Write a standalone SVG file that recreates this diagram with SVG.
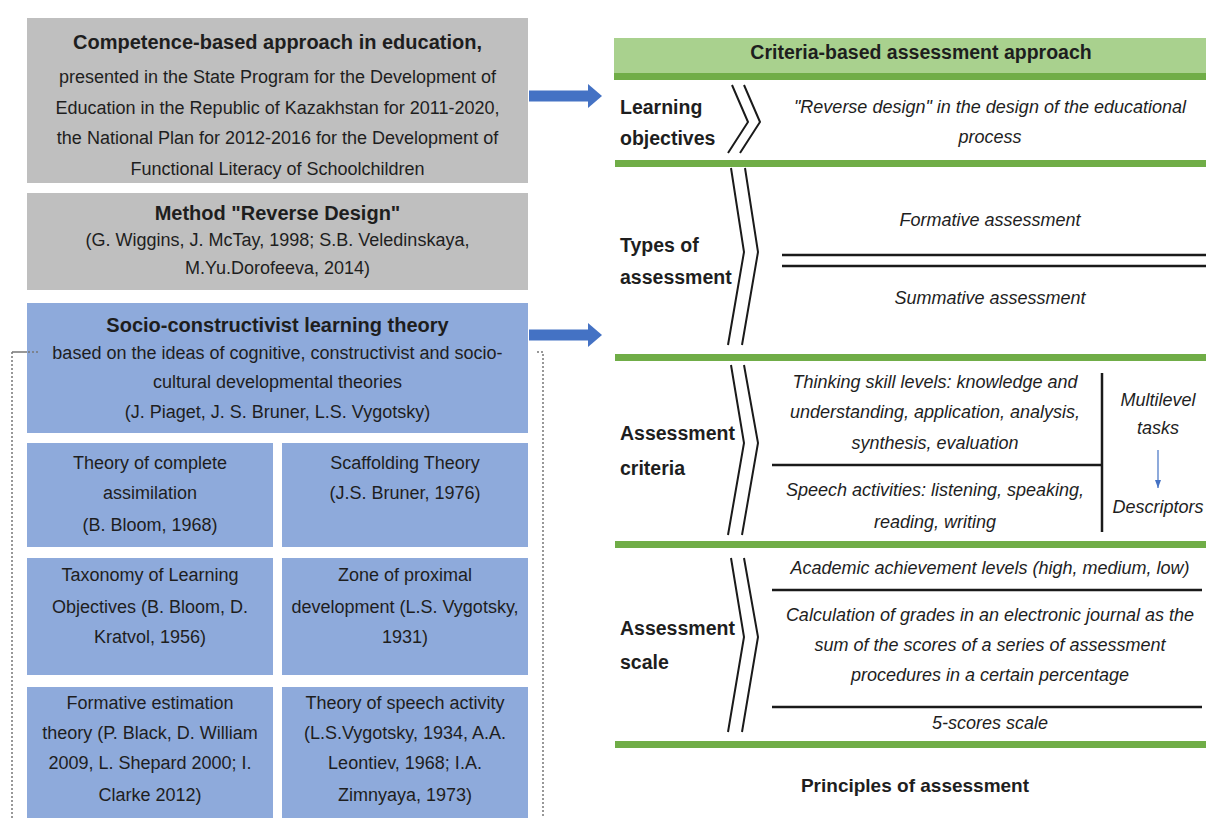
<svg xmlns="http://www.w3.org/2000/svg" width="1206" height="818" viewBox="0 0 1206 818">
<style>
text{font-family:"Liberation Sans",Arial,sans-serif;fill:#1e1e1e;text-anchor:middle}
.t{font-size:20px;font-weight:bold}
.b{font-size:18px}
.lab{font-size:19.5px;font-weight:bold;text-anchor:start}
.i{font-size:18px;font-style:italic}
.gray{fill:#bfbfbf}
.blue{fill:#8eaadb}
.green{stroke:#70ad47;stroke-width:7}
.ln{stroke:#1a1a1a;stroke-width:2.5;fill:none}
.chev{stroke:#1a1a1a;stroke-width:2;fill:none}
.dot{stroke:#777;stroke-width:1.5;stroke-dasharray:2 2;fill:none}
</style>
<defs>
<marker id="head" markerUnits="userSpaceOnUse" markerWidth="14" markerHeight="24" refX="0" refY="12" orient="auto" viewBox="0 0 14 24">
<path d="M0,0 L14,12 L0,24 Z" fill="#4472c4"/>
</marker>
<marker id="small" markerUnits="userSpaceOnUse" markerWidth="8" markerHeight="6" refX="8" refY="3" orient="auto" viewBox="0 0 8 6">
<path d="M0,0 L8,3 L0,6 Z" fill="#4472c4"/>
</marker>
</defs>
<rect width="1206" height="818" fill="#ffffff"/>

<g id="dotted-frame">
<path class="dot" d="M12,818 V352 H40 M537,352 H543 V818"/>
</g>

<g id="competence">
<rect class="gray" x="27" y="18" width="501" height="165"/>
<text class="t" x="277.5" y="49">Competence-based approach in education,</text>
<text class="b" x="277.5" y="83">presented in the State Program for the Development of</text>
<text class="b" x="277.5" y="114">Education in the Republic of Kazakhstan for 2011-2020,</text>
<text class="b" x="277.5" y="144">the National Plan for 2012-2016 for the Development of</text>
<text class="b" x="277.5" y="175">Functional Literacy of Schoolchildren</text>
</g>

<g id="reverse-design">
<rect class="gray" x="27" y="193" width="501" height="97"/>
<text class="t" x="277.5" y="220">Method "Reverse Design"</text>
<text class="b" x="277.5" y="246">(G. Wiggins, J. McTay, 1998; S.B. Veledinskaya,</text>
<text class="b" x="277.5" y="274">M.Yu.Dorofeeva, 2014)</text>
</g>

<g id="socio">
<rect class="blue" x="27" y="303" width="501" height="130"/>
<text class="t" x="277.5" y="332">Socio-constructivist learning theory</text>
<text class="b" x="277.5" y="359">based on the ideas of cognitive, constructivist and socio-</text>
<text class="b" x="277.5" y="388">cultural developmental theories</text>
<text class="b" x="277.5" y="418">(J. Piaget, J. S. Bruner, L.S. Vygotsky)</text>
</g>
<path class="dot" d="M12,352 H40"/>

<g id="complete-assimilation">
<rect class="blue" x="27" y="443" width="246" height="104"/>
<text class="b" x="150" y="469">Theory of complete</text>
<text class="b" x="150" y="499">assimilation</text>
<text class="b" x="150" y="531">(B. Bloom, 1968)</text>
</g>
<g id="scaffolding">
<rect class="blue" x="282" y="443" width="246" height="104"/>
<text class="b" x="405" y="469">Scaffolding Theory</text>
<text class="b" x="405" y="499">(J.S. Bruner, 1976)</text>
</g>
<g id="taxonomy">
<rect class="blue" x="27" y="558" width="246" height="117"/>
<text class="b" x="150" y="581">Taxonomy of Learning</text>
<text class="b" x="150" y="613">Objectives (B. Bloom, D.</text>
<text class="b" x="150" y="643">Kratvol, 1956)</text>
</g>
<g id="proximal">
<rect class="blue" x="282" y="558" width="246" height="117"/>
<text class="b" x="405" y="581">Zone of proximal</text>
<text class="b" x="405" y="613">development (L.S. Vygotsky,</text>
<text class="b" x="405" y="643">1931)</text>
</g>
<g id="formative-estimation">
<rect class="blue" x="27" y="687" width="246" height="131"/>
<text class="b" x="150" y="709">Formative estimation</text>
<text class="b" x="150" y="739">theory (P. Black, D. William</text>
<text class="b" x="150" y="769">2009, L. Shepard 2000; I.</text>
<text class="b" x="150" y="801">Clarke 2012)</text>
</g>
<g id="speech-activity">
<rect class="blue" x="282" y="687" width="246" height="131"/>
<text class="b" x="405" y="709">Theory of speech activity</text>
<text class="b" x="405" y="739">(L.S.Vygotsky, 1934, A.A.</text>
<text class="b" x="405" y="769">Leontiev, 1968; I.A.</text>
<text class="b" x="405" y="801">Zimnyaya, 1973)</text>
</g>

<g id="connectors">
<path d="M529,96 H588" stroke="#4472c4" stroke-width="11" marker-end="url(#head)"/>
<path d="M529,335 H588" stroke="#4472c4" stroke-width="11" marker-end="url(#head)"/>
<path d="M1158,450 V488" stroke="#4472c4" stroke-width="1.2" marker-end="url(#small)"/>
</g>

<g id="criteria-header">
<rect x="614" y="38" width="592" height="36" fill="#a9d18e"/>
<text x="921" y="59" style="font-size:19.5px;font-weight:bold">Criteria-based assessment approach</text>
<line class="green" x1="614" y1="76.5" x2="1206" y2="76.5"/>
</g>

<g id="learning-objectives">
<text class="lab" x="620" y="114">Learning</text>
<text class="lab" x="620" y="145">objectives</text>
<path class="chev" d="M732,85 L748,122 L728,153 M744,85 L760,122 L740,153"/>
<text class="i" x="990" y="113">"Reverse design" in the design of the educational</text>
<text class="i" x="990" y="143">process</text>
<line class="green" x1="615" y1="163.5" x2="1206" y2="163.5"/>
</g>

<g id="types-of-assessment">
<text class="lab" x="620" y="252">Types of</text>
<text class="lab" x="620" y="284">assessment</text>
<path class="chev" d="M731,168 L744,252 L728,345 M745,168 L758,252 L742,345"/>
<text class="i" x="990" y="226">Formative assessment</text>
<line class="ln" x1="782" y1="255" x2="1206" y2="255"/>
<line class="ln" x1="782" y1="266" x2="1206" y2="266"/>
<text class="i" x="990" y="304">Summative assessment</text>
<line class="green" x1="615" y1="357.5" x2="1206" y2="357.5"/>
</g>

<g id="assessment-criteria">
<text class="lab" x="620" y="440">Assessment</text>
<text class="lab" x="620" y="475">criteria</text>
<path class="chev" d="M731,365 L744,443 L728,535 M744,365 L758,443 L742,535"/>
<text class="i" x="935" y="388">Thinking skill levels: knowledge and</text>
<text class="i" x="935" y="418">understanding, application, analysis,</text>
<text class="i" x="935" y="449">synthesis, evaluation</text>
<line class="ln" x1="772" y1="465" x2="1102" y2="465"/>
<line class="ln" x1="1102" y1="373" x2="1102" y2="532"/>
<text class="i" x="935" y="496">Speech activities: listening, speaking,</text>
<text class="i" x="935" y="528">reading, writing</text>
<text class="i" x="1158" y="406">Multilevel</text>
<text class="i" x="1158" y="434">tasks</text>
<text class="i" x="1158" y="513">Descriptors</text>
<line class="green" x1="615" y1="544.5" x2="1206" y2="544.5"/>
</g>

<g id="assessment-scale">
<text class="lab" x="620" y="635">Assessment</text>
<text class="lab" x="620" y="669">scale</text>
<path class="chev" d="M731,558 L744,637 L728,732 M744,558 L758,637 L742,732"/>
<text class="i" x="990" y="574">Academic achievement levels (high, medium, low)</text>
<line class="ln" x1="772" y1="590" x2="1202" y2="590"/>
<text class="i" x="990" y="621">Calculation of grades in an electronic journal as the</text>
<text class="i" x="990" y="651">sum of the scores of a series of assessment</text>
<text class="i" x="990" y="681">procedures in a certain percentage</text>
<line class="ln" x1="772" y1="707" x2="1202" y2="707"/>
<text class="i" x="990" y="729">5-scores scale</text>
<line class="green" x1="615" y1="744.5" x2="1206" y2="744.5"/>
</g>

<g id="principles">
<text x="915" y="792" style="font-size:19px;font-weight:bold">Principles of assessment</text>
</g>
</svg>
